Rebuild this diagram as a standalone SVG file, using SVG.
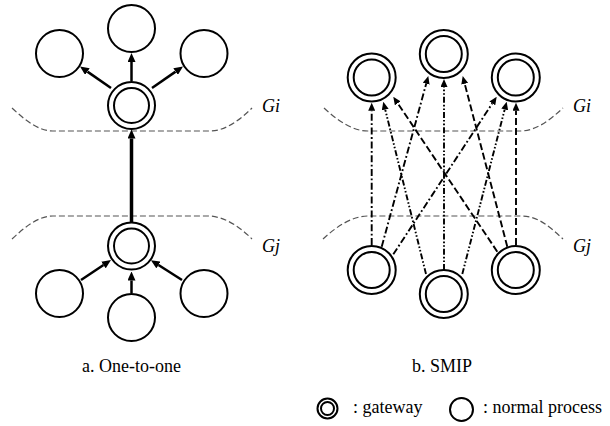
<svg xmlns="http://www.w3.org/2000/svg" width="610" height="426" viewBox="0 0 610 426">
<style>
.c{fill:#fff;stroke:#000;stroke-width:2}
.gi{fill:none;stroke:#000;stroke-width:2}
.grp{fill:none;stroke:#555;stroke-width:1.2;stroke-dasharray:6 3}
.t{font-family:"Liberation Serif","Times New Roman",Times,"DejaVu Serif",serif;font-size:18px;fill:#000}
.it{font-style:italic}
.a{fill:none;stroke:#000;stroke-width:2.5}
.ab{fill:none;stroke:#000;stroke-width:3.5}
.s{fill:none;stroke:#000;stroke-width:1.9}
.dd{stroke-dasharray:7 2.5 1.8 2.5}
.ddd{stroke-dasharray:6 2 1.6 2 1.6 2}
.da{stroke-dasharray:7 3}
</style>
<defs>
<marker id="ah" markerUnits="userSpaceOnUse" markerWidth="8" markerHeight="7" viewBox="0 0 8 7" refX="0" refY="3.5" orient="auto"><path d="M0,0 L8,3.5 L0,7 z" fill="#000"/></marker>
<marker id="ahl" markerUnits="userSpaceOnUse" markerWidth="9" markerHeight="8" viewBox="0 0 9 8" refX="0" refY="4" orient="auto"><path d="M0,0 L9,4 L0,8 z" fill="#000"/></marker>
</defs>

<g id="groups">
<path class="grp" d="M12,108 C25,120 38,131 53,131 L210,131 C225,131 240,120 252,108"/>
<path class="grp" d="M12,239 C25,227 38,216 53,216 L208,216 C224,216 240,227 252,239"/>
<path class="grp" d="M324,108 C337,120 352,131 368,131 L520,131 C536,131 550,120 563,108"/>
<path class="grp" d="M323,239 C336,227 352,216 368,216 L522,216 C538,216 550,227 563,239"/>
<text class="t it" font-family="Liberation Serif, Times New Roman, serif" x="262" y="112">Gi</text>
<text class="t it" font-family="Liberation Serif, Times New Roman, serif" x="262" y="252">Gj</text>
<text class="t it" font-family="Liberation Serif, Times New Roman, serif" x="573" y="112">Gi</text>
<text class="t it" font-family="Liberation Serif, Times New Roman, serif" x="573" y="252">Gj</text>
</g>

<g id="connectors">
<line class="a" x1="111" y1="88" x2="87.4" y2="71.63" marker-end="url(#ahl)"/>
<line class="a" x1="131.5" y1="81" x2="131.5" y2="62" marker-end="url(#ahl)"/>
<line class="a" x1="152" y1="88" x2="175.6" y2="71.63" marker-end="url(#ahl)"/>
<line class="ab" x1="131.5" y1="222" x2="131.5" y2="138.5" marker-end="url(#ahl)"/>
<line class="a" x1="81" y1="280" x2="103.5" y2="265" marker-end="url(#ahl)"/>
<line class="a" x1="131.5" y1="293" x2="131.5" y2="280.5" marker-end="url(#ahl)"/>
<line class="a" x1="182" y1="280" x2="158.5" y2="265" marker-end="url(#ahl)"/>

<line class="s dd" x1="371.7" y1="245" x2="371.7" y2="110.7" marker-end="url(#ah)"/>
<line class="s dd" x1="381.7" y1="246.7" x2="426.19" y2="83.72" marker-end="url(#ah)"/>
<line class="s dd" x1="393.3" y1="254.3" x2="492.31" y2="103.39" marker-end="url(#ah)"/>
<line class="s ddd" x1="426" y1="274" x2="385.22" y2="109.47" marker-end="url(#ah)"/>
<line class="s ddd" x1="444" y1="270" x2="444" y2="87" marker-end="url(#ah)"/>
<line class="s ddd" x1="462.3" y1="274" x2="504.7" y2="109.45" marker-end="url(#ah)"/>
<line class="s da" x1="497.3" y1="251.7" x2="397.76" y2="103.34" marker-end="url(#ah)"/>
<line class="s da" x1="507.3" y1="246.7" x2="464.72" y2="83.74" marker-end="url(#ah)"/>
<line class="s da" x1="516" y1="245" x2="516" y2="110.7" marker-end="url(#ah)"/>
</g>

<g id="a-top-left"><circle class="c" cx="59.5" cy="53.5" r="23.5"/></g>
<g id="a-top-mid"><circle class="c" cx="131.5" cy="28.5" r="23.5"/></g>
<g id="a-top-right"><circle class="c" cx="204" cy="53.5" r="23.5"/></g>
<g id="a-gw-i"><circle class="c" cx="131.5" cy="105.5" r="23.5"/><circle class="gi" cx="131.5" cy="105.5" r="17.5"/></g>
<g id="a-gw-j"><circle class="c" cx="131.5" cy="246" r="23.5"/><circle class="gi" cx="131.5" cy="246" r="17.5"/></g>
<g id="a-bot-left"><circle class="c" cx="59.5" cy="293.5" r="23.5"/></g>
<g id="a-bot-mid"><circle class="c" cx="131.5" cy="317.5" r="23.5"/></g>
<g id="a-bot-right"><circle class="c" cx="204" cy="293.5" r="23.5"/></g>

<g id="b-top-left"><circle class="c" cx="371.7" cy="77.5" r="24"/><circle class="gi" cx="371.7" cy="77.5" r="18"/></g>
<g id="b-top-mid"><circle class="c" cx="443.8" cy="54" r="24"/><circle class="gi" cx="443.8" cy="54" r="18"/></g>
<g id="b-top-right"><circle class="c" cx="515.8" cy="77.5" r="24"/><circle class="gi" cx="515.8" cy="77.5" r="18"/></g>
<g id="b-bot-left"><circle class="c" cx="371.7" cy="270" r="24"/><circle class="gi" cx="371.7" cy="270" r="18"/></g>
<g id="b-bot-mid"><circle class="c" cx="443.8" cy="294" r="24"/><circle class="gi" cx="443.8" cy="294" r="18"/></g>
<g id="b-bot-right"><circle class="c" cx="515.8" cy="270" r="24"/><circle class="gi" cx="515.8" cy="270" r="18"/></g>

<g id="captions">
<text class="t" font-family="Liberation Serif, Times New Roman, serif" x="131.5" y="372" text-anchor="middle">a. One-to-one</text>
<text class="t" font-family="Liberation Serif, Times New Roman, serif" x="442" y="372" text-anchor="middle">b. SMIP</text>
</g>

<g id="legend">
<circle class="c" cx="327.5" cy="408.5" r="10"/><circle class="gi" cx="327.5" cy="408.5" r="6.5"/>
<text class="t" font-family="Liberation Serif, Times New Roman, serif" x="353" y="413">: gateway</text>
<circle class="c" cx="461.5" cy="409.5" r="11.5"/>
<text class="t" font-family="Liberation Serif, Times New Roman, serif" x="483" y="413">: normal process</text>
</g>
</svg>
